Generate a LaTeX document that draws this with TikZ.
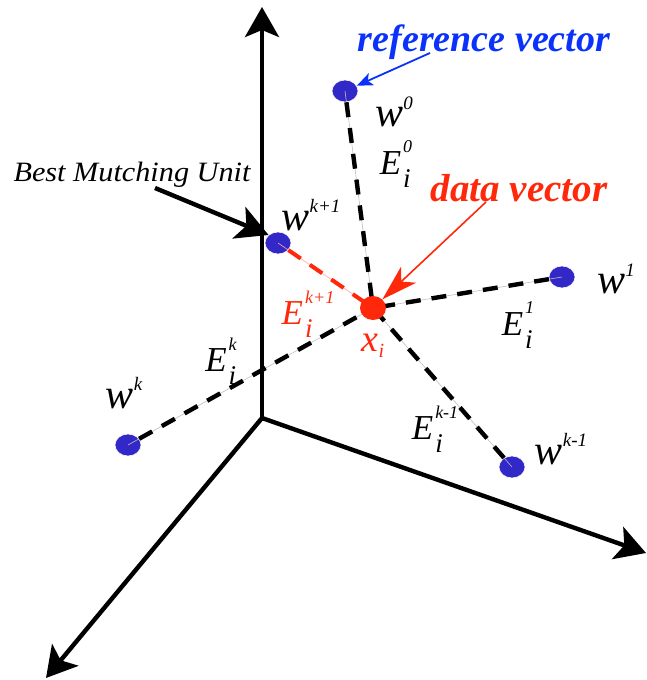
\documentclass[tikz,border=0pt]{standalone}
\usepackage{fontspec}
\setmainfont{Liberation Serif}
\usetikzlibrary{arrows.meta,shapes.geometric}
\definecolor{dotblue}{RGB}{50,40,200}
\definecolor{refblue}{RGB}{10,50,250}
\definecolor{datared}{RGB}{255,40,10}
\newcommand{\Elab}[1]{\fontsize{35}{35}\selectfont E\hspace{0.06em}\rlap{\raisebox{-0.36em}{\fontsize{27}{27}\selectfont i}}\raisebox{0.62em}{\fontsize{18}{18}\selectfont #1}}
\newcommand{\Wlab}[1]{\fontsize{42}{42}\selectfont w\raisebox{0.42em}{\fontsize{19}{19}\selectfont #1}}
\tikzset{
  dotnode/.style={ellipse,fill=dotblue,draw=white,line width=0.6pt,minimum width=26pt,minimum height=22pt,inner sep=0pt},
  datanode/.style={ellipse,fill=datared,minimum width=26pt,minimum height=24pt,inner sep=0pt},
  bigtip/.style={-{Stealth[length=30pt,width=34pt,inset=7pt]}},
  axis/.style={line width=4.4pt,bigtip},
  guide/.style={gray!50,line width=0.6pt},
  dashline/.style={line width=4.4pt,dash pattern=on 15pt off 11pt},
  lab/.style={font=\itshape,inner sep=0pt},
}
\begin{document}
\begin{tikzpicture}[x=1pt,y=-1pt]
\useasboundingbox (0,0) rectangle (647,680);
% axes
\coordinate (o) at (262,418);
\coordinate (ty) at (262,7);
\coordinate (tx) at (646,553);
\coordinate (tz) at (46,678);
\draw[axis] (o) -- (ty);
\draw[axis] (o) -- (tx);
\draw[axis] (o) -- (tz);
% nodes
\node[dotnode] (w0) at (345,91) {};
\node[dotnode] (wk1) at (278,243) {};
\node[dotnode] (w1) at (562,277) {};
\node[dotnode] (wk) at (128,445) {};
\node[dotnode] (wkm) at (512,467) {};
\coordinate (xc) at (373,308);
% edges
\foreach \n in {w0,w1,wk,wkm} {
  \draw[guide] (xc) -- (\n.center);
}
\draw[red!35,line width=0.6pt] (xc) -- (wk1.center);
\draw[dashline] (w0) -- (xc);
\draw[dashline] (w1) -- (xc);
\draw[dashline] (wk) -- (xc);
\draw[dashline] (wkm) -- (xc);
\draw[dashline,datared,line width=4pt] (wk1) -- (xc);
\node[datanode] (x) at (xc) {};
% labels
\node[lab] (lw0) at (394,112) {\Wlab{0}};
\node[lab] (lwk1) at (311,215) {\Wlab{k+1}};
\node[lab] (lw1) at (616,279) {\Wlab{1}};
\node[lab] (lwk) at (124,393) {\Wlab{k}};
\node[lab] (lwkm) at (561,449) {\Wlab{k-1}};
\node[lab] (le0) at (396,164) {\Elab{0}};
\node[lab,text=datared] (lek1) at (308,314) {\Elab{k+1}};
\node[lab] (le1) at (518,325) {\Elab{1}};
\node[lab] (lek) at (221,361) {\Elab{k}};
\node[lab] (lekm) at (435,429) {\Elab{k-1}};
\node[lab,text=datared] (lx) at (373,346) {\fontsize{38}{38}\selectfont x\raisebox{-0.15em}{\fontsize{20}{20}\selectfont i}};
% annotations
\node[inner sep=0pt,text=refblue,font=\bfseries\itshape\fontsize{38}{38}\selectfont] (ref) at (484,42) {reference vector};
\draw[refblue,line width=1.8pt,-{Stealth[length=16pt,width=13pt,inset=4pt]}] (430,53) -- (w0);
\node[inner sep=0pt,text=datared,font=\bfseries\itshape\fontsize{39}{39}\selectfont] (dv) at (519,188) {data vector};
\draw[datared,line width=1.6pt,-{Stealth[length=36pt,width=22pt,inset=10pt]}] (486,202) -- (x.north east);
\node[inner sep=0pt,font=\itshape\fontsize{28}{28}\selectfont] (bmu) at (132,175) {\scalebox{1.08}[1]{Best Mutching Unit}};
\draw[line width=4.4pt,-{Stealth[length=32pt,width=34pt,inset=8pt]}] (155,188) -- (wk1.north west);
\end{tikzpicture}
\end{document}
